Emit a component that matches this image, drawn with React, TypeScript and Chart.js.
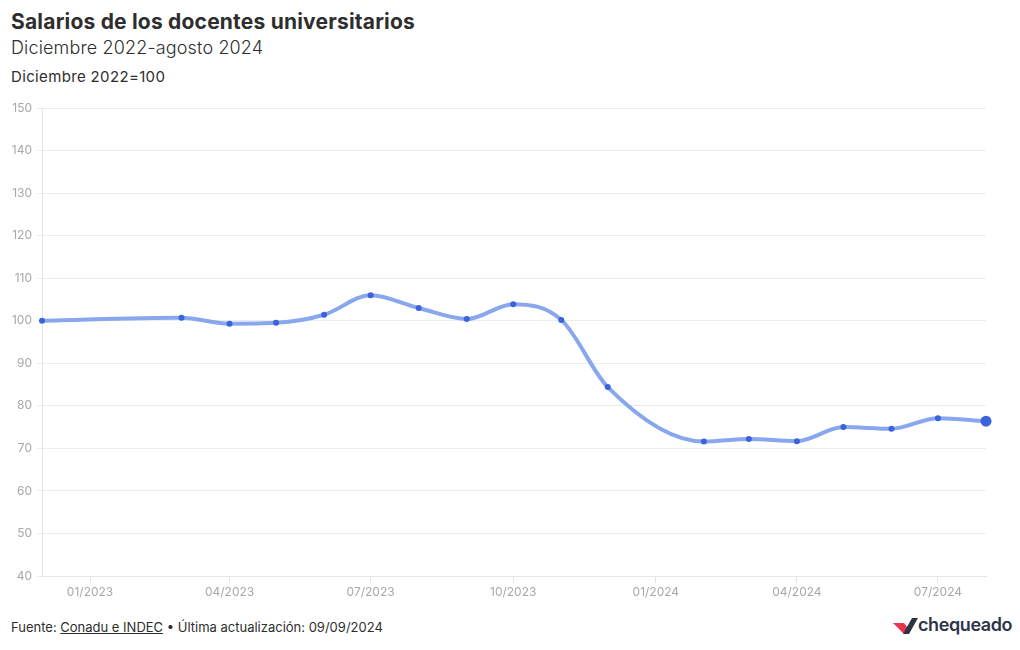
import React, { useEffect, useRef } from "react";
import { Chart, registerables } from "chart.js";

Chart.register(...registerables);

const months: string[] = [
  "2022-12", "2023-03", "2023-04", "2023-05", "2023-06", "2023-07", "2023-08",
  "2023-09", "2023-10", "2023-11", "2023-12", "2024-02", "2024-03", "2024-04",
  "2024-05", "2024-06", "2024-07", "2024-08",
];
const salaryIndex: number[] = [
  100, 100.7, 99.3, 99.5, 101.4, 106.0, 103.0, 100.4, 103.9, 100.2, 84.4,
  71.6, 72.2, 71.7, 75.0, 74.6, 77.1, 76.4,
];
const tickMonths: string[] = ["2023-01", "2023-04", "2023-07", "2023-10", "2024-01", "2024-04", "2024-07"];
const tickLabels: string[] = ["01/2023", "04/2023", "07/2023", "10/2023", "01/2024", "04/2024", "07/2024"];
const yTicks: number[] = [40, 50, 60, 70, 80, 90, 100, 110, 120, 130, 140, 150];

const dayNum = (s: string) => {
  const [y, m] = s.split("-").map(Number);
  return Date.UTC(y, m - 1, 1) / 86400000;
};

const FONT = "Inter, 'Noto Sans', sans-serif";

export default function App() {
  const ref = useRef<HTMLCanvasElement | null>(null);
  useEffect(() => {
    if (!ref.current) return;
    const last = salaryIndex.length - 1;
    const chart = new Chart(ref.current, {
      type: "line",
      data: {
        datasets: [
          {
            data: months.map((m, i) => ({ x: dayNum(m), y: salaryIndex[i] })),
            borderColor: "#89a7ef",
            borderWidth: 4,
            cubicInterpolationMode: "monotone",
            pointBackgroundColor: "#3a63dc",
            pointBorderColor: "#3a63dc",
            pointBorderWidth: 0,
            pointRadius: (c: any) => (c.dataIndex === last ? 5.5 : 3),
            clip: false as any,
          } as any,
        ],
      },
      options: {
        animation: false,
        responsive: false,
        maintainAspectRatio: false,
        layout: { padding: { top: 13, right: 34, left: 0, bottom: 0 } },
        plugins: { legend: { display: false }, tooltip: { enabled: false } },
        scales: {
          x: {
            type: "linear",
            min: dayNum(months[0]),
            max: dayNum(months[months.length - 1]),
            afterBuildTicks: (scale: any) => {
              scale.ticks = tickMonths.map((m) => ({ value: dayNum(m) }));
            },
            afterFit: (scale: any) => {
              scale.height = 30;
            },
            grid: { drawOnChartArea: false, drawTicks: true, tickLength: 7, color: "#e6e6e6" },
            border: { display: true, color: "#e6e6e6" },
            ticks: {
              autoSkip: false,
              maxRotation: 0,
              padding: 2,
              color: "#a8a8a8",
              font: { family: FONT, size: 12 },
              callback: (_v: any, i: number) => tickLabels[i],
            },
          },
          y: {
            min: 40,
            max: 150,
            afterBuildTicks: (scale: any) => {
              scale.ticks = yTicks.map((v) => ({ value: v }));
            },
            afterFit: (scale: any) => {
              scale.width = 42;
            },
            grid: { color: "#ececec", tickLength: 5 },
            border: { display: true, color: "#e6e6e6" },
            ticks: {
              padding: 5,
              color: "#a8a8a8",
              font: { family: FONT, size: 12 },
            },
          },
        },
      } as any,
    });
    return () => chart.destroy();
  }, []);

  return (
    <div
      style={{
        position: "fixed",
        left: 0,
        top: 0,
        width: 1020,
        height: 650,
        background: "#fff",
        fontFamily: FONT,
        color: "#2e2e2e",
      }}
    >
      <div style={{ position: "absolute", left: 11, top: 9, fontSize: 21, fontWeight: 700, lineHeight: "26px", letterSpacing: 0.2, whiteSpace: "nowrap" }}>
        Salarios de los docentes universitarios
      </div>
      <div style={{ position: "absolute", left: 11, top: 36, fontSize: 18, fontWeight: 300, lineHeight: "24px", letterSpacing: 0.15, whiteSpace: "nowrap" }}>
        Diciembre 2022-agosto 2024
      </div>
      <div style={{ position: "absolute", left: 11, top: 68, fontSize: 15, lineHeight: "18px", letterSpacing: 0.35, whiteSpace: "nowrap" }}>
        Diciembre 2022=100
      </div>
      <canvas ref={ref} width={1020} height={511} style={{ position: "absolute", left: 0, top: 95 }} />
      <div style={{ position: "absolute", left: 11, top: 618, fontSize: 13, lineHeight: "18px", whiteSpace: "nowrap" }}>
        Fuente: <span style={{ textDecoration: "underline" }}>Conadu e INDEC</span> • Última actualización: 09/09/2024
      </div>
      <div style={{ position: "absolute", left: 893, top: 614, display: "flex", alignItems: "center" }}>
        <svg width="25" height="20" viewBox="0 0 25 20">
          <polygon points="0,8 11,8 15,13 11,19" fill="#e8344e" />
          <polygon points="10,19 19,3 25,3 16,19" fill="#2d3447" />
        </svg>
        <span style={{ fontSize: 18, fontWeight: 600, color: "#2d3447", marginLeft: 0, letterSpacing: -0.4 }}>chequeado</span>
      </div>
    </div>
  );
}
